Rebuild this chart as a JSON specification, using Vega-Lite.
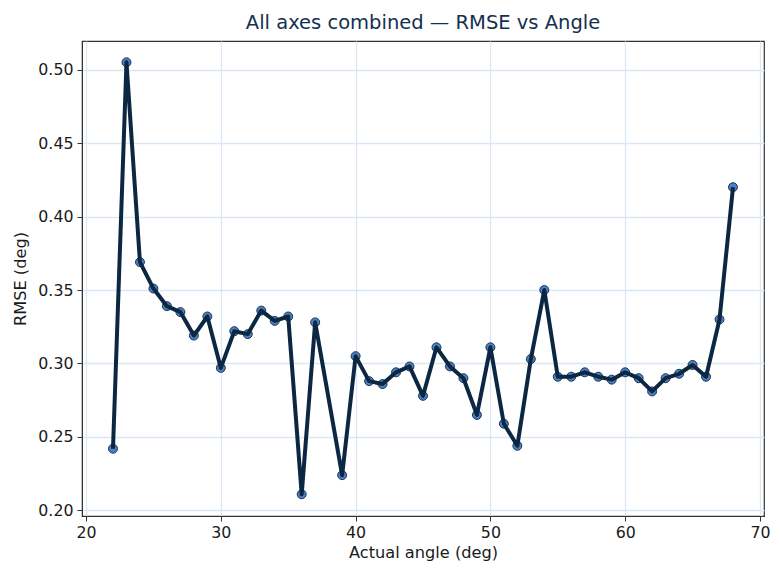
{
  "$schema": "https://vega.github.io/schema/vega-lite/v6.json",
  "autosize": {"type": "none"},
  "padding": {"left": 82, "top": 41, "right": 16, "bottom": 61},
  "width": 682,
  "height": 475,
  "background": "white",
  "title": {
    "text": "All axes combined — RMSE vs Angle",
    "font": "DejaVu Sans",
    "fontSize": 19.5,
    "fontWeight": "normal",
    "color": "#14304f",
    "anchor": "middle",
    "offset": 8
  },
  "config": {
    "view": {"stroke": "#333333", "strokeWidth": 1.2},
    "axis": {
      "labelFont": "DejaVu Sans",
      "labelFontSize": 15.8,
      "labelColor": "#1a1a1a",
      "titleFont": "DejaVu Sans",
      "titleFontSize": 16.2,
      "titleFontWeight": "normal",
      "titleColor": "#1a1a1a",
      "tickColor": "#333333",
      "tickSize": 5,
      "domainColor": "#333333",
      "gridColor": "#dae7f5",
      "gridWidth": 1.3,
      "labelPadding": 4
    }
  },
  "data": {
    "values": [
      {"angle": 22, "rmse": 0.242},
      {"angle": 23, "rmse": 0.505},
      {"angle": 24, "rmse": 0.369},
      {"angle": 25, "rmse": 0.351},
      {"angle": 26, "rmse": 0.339},
      {"angle": 27, "rmse": 0.335},
      {"angle": 28, "rmse": 0.319},
      {"angle": 29, "rmse": 0.332},
      {"angle": 30, "rmse": 0.297},
      {"angle": 31, "rmse": 0.322},
      {"angle": 32, "rmse": 0.320},
      {"angle": 33, "rmse": 0.336},
      {"angle": 34, "rmse": 0.329},
      {"angle": 35, "rmse": 0.332},
      {"angle": 36, "rmse": 0.211},
      {"angle": 37, "rmse": 0.328},
      {"angle": 39, "rmse": 0.224},
      {"angle": 40, "rmse": 0.305},
      {"angle": 41, "rmse": 0.288},
      {"angle": 42, "rmse": 0.286},
      {"angle": 43, "rmse": 0.294},
      {"angle": 44, "rmse": 0.298},
      {"angle": 45, "rmse": 0.278},
      {"angle": 46, "rmse": 0.311},
      {"angle": 47, "rmse": 0.298},
      {"angle": 48, "rmse": 0.290},
      {"angle": 49, "rmse": 0.265},
      {"angle": 50, "rmse": 0.311},
      {"angle": 51, "rmse": 0.259},
      {"angle": 52, "rmse": 0.244},
      {"angle": 53, "rmse": 0.303},
      {"angle": 54, "rmse": 0.350},
      {"angle": 55, "rmse": 0.291},
      {"angle": 56, "rmse": 0.291},
      {"angle": 57, "rmse": 0.294},
      {"angle": 58, "rmse": 0.291},
      {"angle": 59, "rmse": 0.289},
      {"angle": 60, "rmse": 0.294},
      {"angle": 61, "rmse": 0.290},
      {"angle": 62, "rmse": 0.281},
      {"angle": 63, "rmse": 0.290},
      {"angle": 64, "rmse": 0.293},
      {"angle": 65, "rmse": 0.299},
      {"angle": 66, "rmse": 0.291},
      {"angle": 67, "rmse": 0.330},
      {"angle": 68, "rmse": 0.420}
    ]
  },
  "encoding": {
    "x": {
      "field": "angle",
      "type": "quantitative",
      "title": "Actual angle (deg)",
      "scale": {"domain": [19.7, 70.3], "nice": false, "zero": false},
      "axis": {"values": [20, 30, 40, 50, 60, 70], "titlePadding": 5}
    },
    "y": {
      "field": "rmse",
      "type": "quantitative",
      "title": "RMSE (deg)",
      "scale": {"domain": [0.1962, 0.5195], "nice": false, "zero": false},
      "axis": {"values": [0.2, 0.25, 0.3, 0.35, 0.4, 0.45, 0.5], "format": ".2f", "titlePadding": 9}
    }
  },
  "layer": [
    {
      "mark": {"type": "point", "filled": true, "fill": "#4b80c6", "stroke": "#1d3350", "strokeWidth": 1, "opacity": 1, "size": 80}
    },
    {
      "mark": {"type": "line", "color": "#0c2742", "strokeWidth": 4, "strokeJoin": "round"}
    }
  ]
}
